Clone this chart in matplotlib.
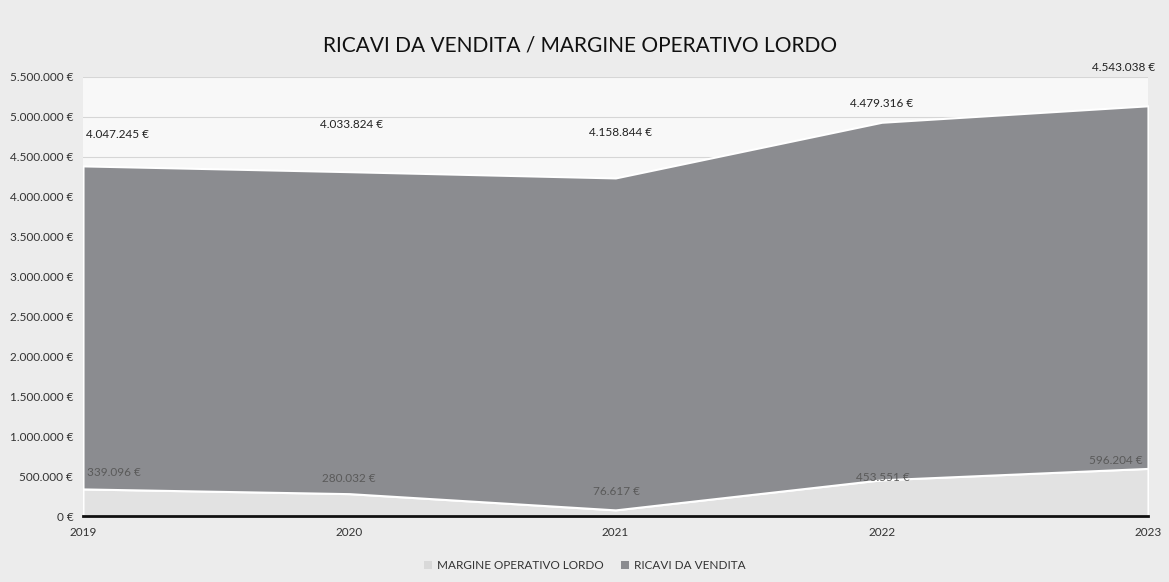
import matplotlib.pyplot as plt
from matplotlib.ticker import FuncFormatter
from matplotlib.patches import Patch

years = [2019, 2020, 2021, 2022, 2023]
mol = [339096, 280032, 76617, 453551, 596204]
ricavi = [4047245, 4033824, 4158844, 4479316, 4543038]

plt.rcParams['font.family'] = ['Lato', 'DejaVu Sans']


def euro(v):
    return "{:,.0f} €".format(v).replace(",", ".")


fig = plt.figure(figsize=(11.69, 5.82), dpi=100)
fig.patch.set_facecolor('#ececec')
ax = fig.add_axes([0.071, 0.1134, 0.911, 0.7543])
ax.set_facecolor('#f8f8f8')

ax.stackplot(years, mol, ricavi, colors=['#e2e2e2', '#8b8c90'],
             edgecolor='white', linewidth=1.5, zorder=2)

ax.set_xlim(2019, 2023)
ax.set_ylim(0, 5500000)
ax.set_yticks(range(0, 5500001, 500000))
ax.yaxis.set_major_formatter(FuncFormatter(lambda v, p: euro(v)))
ax.set_xticks(years)
ax.grid(axis='y', color='#d6d6d6', linewidth=0.8, zorder=1)
ax.tick_params(length=0, labelsize=8.5, colors='#333333', pad=7)
ax.tick_params(axis='x', pad=8)
for s in ['top', 'right', 'left']:
    ax.spines[s].set_visible(False)
ax.spines['bottom'].set_linewidth(2)
ax.spines['bottom'].set_color('#111111')
ax.spines['bottom'].set_zorder(5)

# data labels (offsets in pixels, as placed in the original)
top_off = [(3, 31), (2, 47), (5, 45), (0, 19), (7, 38)]
top_ha = ['left', 'center', 'center', 'center', 'right']
for i, y in enumerate(years):
    ax.annotate(euro(ricavi[i]), (y, mol[i] + ricavi[i]), xytext=top_off[i],
                textcoords='offset pixels', ha=top_ha[i], va='center',
                fontsize=8.5, color='#222222', zorder=6, annotation_clip=False)

mol_off = [(4, 16), (0, 15), (1, 18), (1, 2), (-5, 8)]
mol_ha = ['left', 'center', 'center', 'center', 'right']
for i, y in enumerate(years):
    ax.annotate(euro(mol[i]), (y, mol[i]), xytext=mol_off[i],
                textcoords='offset pixels', ha=mol_ha[i], va='center',
                fontsize=8.5, color='#5a5a5a', zorder=6)

fig.text(0.496, 0.922, 'RICAVI DA VENDITA / MARGINE OPERATIVO LORDO',
         ha='center', va='center', fontsize=15, color='#111111')

handles = [Patch(facecolor='#d9d9d9', label='MARGINE OPERATIVO LORDO'),
           Patch(facecolor='#8b8c90', label='RICAVI DA VENDITA')]
fig.legend(handles=handles, loc='center', bbox_to_anchor=(0.5, 0.028), ncol=2,
           frameon=False, fontsize=8.5, handlelength=0.7, handleheight=0.7,
           handletextpad=0.4, columnspacing=1.5, labelcolor='#333333')

fig.savefig('out.png', dpi=100, facecolor=fig.get_facecolor())
